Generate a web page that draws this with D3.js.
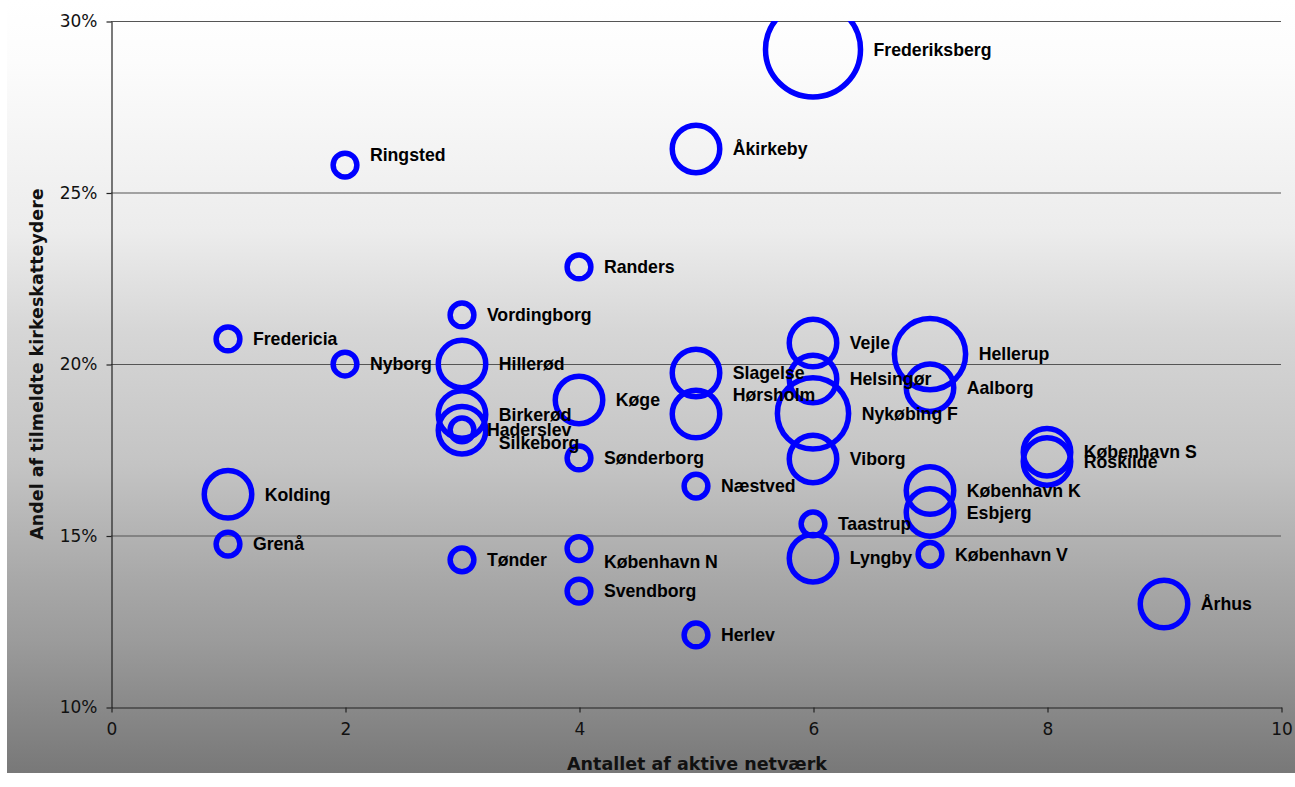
<!doctype html>
<html>
<head>
<meta charset="utf-8">
<style>
  * { margin: 0; padding: 0; }
  body { background: #fff; width: 1295px; height: 787px; overflow: hidden; }
  svg { display: block; }
  .tick text { font-family: "DejaVu Sans", Verdana, sans-serif; font-size: 17px; fill: #111; }
  .lbl { font-family: "Liberation Sans", Arial, sans-serif; font-weight: bold; font-size: 17.7px; fill: #000; }
  .ttl { font-family: "DejaVu Sans", Verdana, sans-serif; font-weight: bold; font-size: 17.5px; fill: #111; }
</style>
</head>
<body>
<div id="main"></div>
<script src="https://d3js.org/d3.v7.min.js"></script>
<script>
// byer, antal aktive netvaerk, andel tilmeldte (%), boblestorrelse
var towns = ['Frederiksberg','Åkirkeby','Ringsted','Randers','Vordingborg','Fredericia','Nyborg','Hillerød',
  'Birkerød','Haderslev','Silkeborg','Køge','Sønderborg','Kolding','Grenå','Tønder','København N','Svendborg',
  'Herlev','Næstved','Slagelse','Hørsholm','Vejle','Helsingør','Nykøbing F','Viborg','Taastrup','Lyngby',
  'Hellerup','Aalborg','København K','Esbjerg','København V','København S','Roskilde','Århus'];
var networks = [6,5,2,4,3,1,2,3, 3,3,3,4,4,1,1,3,4,4, 5,5,5,5,6,6,6,6,6,6, 7,7,7,7,7,8,8,9];
var share = [29.17,26.27,25.80,22.83,21.43,20.73,20.0,20.0,
  18.53,18.08,18.07,18.95,17.26,16.20,14.75,14.29,14.62,13.38,
  12.10,16.44,19.74,18.54,20.61,19.56,18.56,17.23,15.34,14.34,
  20.29,19.31,16.31,15.67,14.45,17.43,17.16,13.0];
var bubble = [4,2,1,1,1,1,1,2, 2,1,2,2,1,2,1,1,1,1, 1,1,2,2,2,2,3,2,1,2, 3,2,2,2,1,2,2,2];

var xTicks = [0,2,4,6,8,10];
var yTicks = [10,15,20,25,30];
var xTitle = 'Antallet af aktive netværk';
var yTitle = 'Andel af tilmeldte kirkeskatteydere';

// labels moved by hand in the original
var nudge = { 'Ringsted': -10, 'København N': 13, 'Silkeborg': 13, 'Hørsholm': -19 };

var W = 1295, H = 787;
var pL = 111, pR = 1281, pT = 21, pB = 707;

var svg = d3.select('#main').append('svg').attr('width', W).attr('height', H);
var defs = svg.append('defs');

var grad = defs.append('linearGradient').attr('id', 'bg').attr('x1', 0).attr('y1', 0).attr('x2', 0).attr('y2', 1);
[[0,255],[0.08,252],[0.3,236],[0.43,214],[0.6,196],[0.75,168],[0.83,155],[0.91,138],[1,120]].forEach(function(s){
  grad.append('stop').attr('offset', s[0]).attr('stop-color', d3.rgb(s[1], s[1], s[1]));
});
svg.append('rect').attr('x', 7).attr('y', 0).attr('width', W - 7).attr('height', 773).attr('fill', 'url(#bg)');

defs.append('clipPath').attr('id', 'plot').append('rect')
  .attr('x', pL).attr('y', pT).attr('width', pR - pL).attr('height', pB - pT);

var x = d3.scaleLinear().domain([0, 10]).range([pL, pR]);
var y = d3.scaleLinear().domain([10, 30]).range([pB, pT]);
var r = d3.scaleLinear().domain([0, 4]).range([0, 47.5]);

// gridlines
svg.append('g').selectAll('line').data(yTicks.slice(1)).enter().append('line')
  .attr('x1', pL).attr('x2', pR)
  .attr('y1', function(d){ return y(d) + 0.5 }).attr('y2', function(d){ return y(d) + 0.5 })
  .attr('stroke', '#555').attr('stroke-width', 1.2);

svg.append('g').attr('transform', 'translate(' + (pL + 0.5) + ',0.5)')
  .call(d3.axisLeft(y).tickValues(yTicks).tickFormat(function(d){ return d + '%' }).tickSizeInner(5).tickSizeOuter(0).tickPadding(9));
svg.append('g').attr('transform', 'translate(0.5,' + (pB + 0.5) + ')')
  .call(d3.axisBottom(x).tickValues(xTicks).tickSizeInner(5).tickSizeOuter(0).tickPadding(10));
svg.selectAll('.domain, .tick line').attr('stroke', '#222').attr('stroke-width', 1.2);

var pts = towns.map(function(t, i){
  return { name: t, cx: x(networks[i]), cy: y(share[i]), rr: r(bubble[i]) };
});

svg.append('g').attr('clip-path', 'url(#plot)').selectAll('circle').data(pts).enter().append('circle')
  .attr('cx', function(d){ return d.cx })
  .attr('cy', function(d){ return d.cy })
  .attr('r', function(d){ return d.rr })
  .attr('fill', 'none').attr('stroke', '#0000ff').attr('stroke-width', 5.5);

svg.append('g').selectAll('text').data(pts).enter().append('text')
  .attr('class', 'lbl')
  .attr('x', function(d){ return d.cx + d.rr + 13 })
  .attr('y', function(d){ return d.cy + (nudge[d.name] || 0) })
  .attr('dy', '0.35em')
  .text(function(d){ return d.name });

svg.append('text').attr('class', 'ttl').attr('text-anchor', 'middle')
  .attr('x', (pL + pR) / 2 + 1).attr('y', 770).text(xTitle);
svg.append('text').attr('class', 'ttl').attr('text-anchor', 'middle')
  .attr('transform', 'translate(43,' + ((pT + pB) / 2) + ') rotate(-90)').text(yTitle);
</script>
</body>
</html>
